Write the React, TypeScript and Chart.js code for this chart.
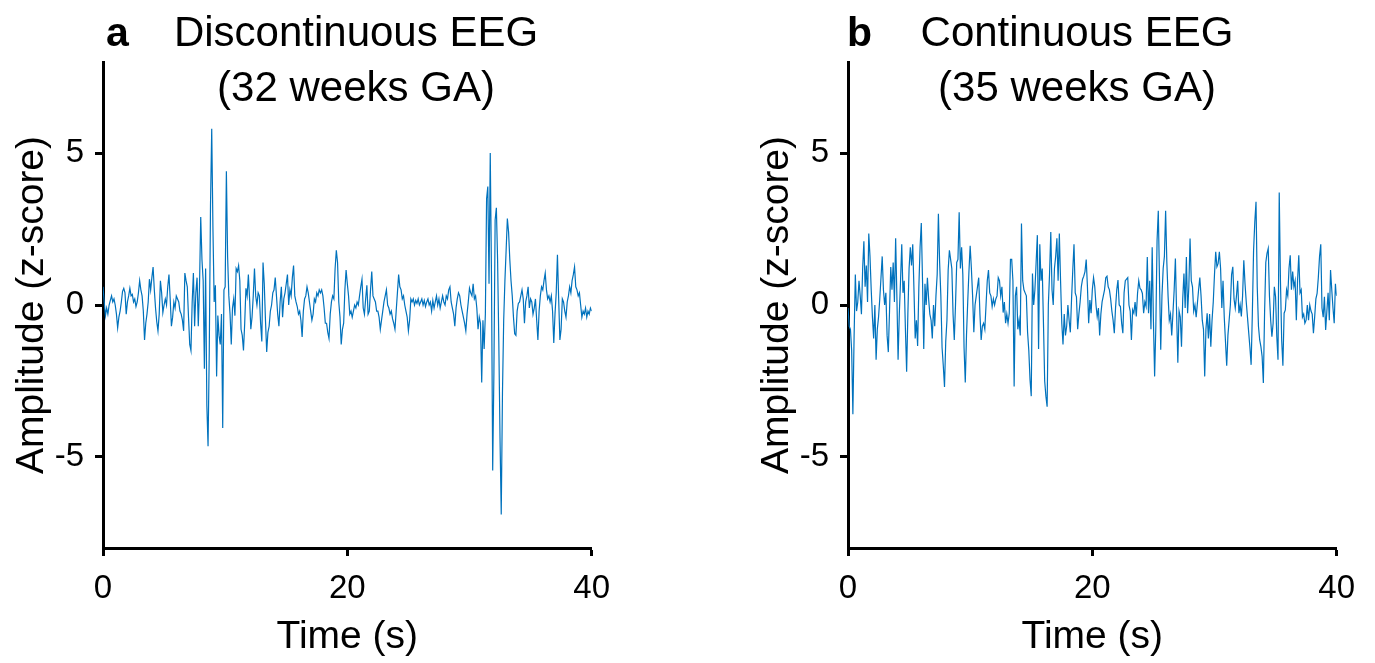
import React, { useEffect, useRef } from 'react';
import { Chart, registerables } from 'chart.js';

Chart.register(...registerables);

// Sampling interval of the traces (seconds)
const timeStep = 0.1;

// Panel a: discontinuous EEG, 32 weeks GA (z-score), one row per second
const discontinuousEEG = [
  0.6, 0.1, -0.35, -0.1, -0.3, 0.0, 0.15, 0.3, 0.1, 0.2,
  0.0, -0.3, -0.75, -0.4, -0.2, 0.1, 0.45, 0.55, 0.4, -0.3,
  0.1, 0.3, 0.55, 0.3, 0.35, 0.1, 0.2, -0.05, 0.1, 0.4,
  0.8, 0.5, 0.3, -0.2, -1.15, -0.6, -0.3, 0.1, 0.85, 0.5,
  0.9, 1.25, 0.5, -0.1, -0.55, -0.85, -0.3, 0.8, 0.4, -0.25,
  0.0, 0.2, 0.0, 0.6, 1.0, 0.2, -0.7, -0.4, 0.1, -0.1,
  0.3, 0.2, 0.1, -0.2, -0.3, -0.5, -0.85, 1.05, 0.8, 0.6,
  -0.4, -1.3, -1.5, 0.1, 1.05, -0.7, 0.4, 0.9, -0.7, 0.6,
  2.9, 1.5, 0.8, -2.1, 1.2, -3.3, -4.65, -1.5, 3.3, 5.8,
  2.5, 0.1, 0.65, -2.35, -0.35, -1.0, -1.3, -0.3, -4.05, 0.5,
  0.6, 4.4, 1.6, 0.3, -0.3, -1.3, -0.1, 0.2, -0.35, 1.2,
  1.1, 1.3, 0.8, -0.8, -1.0, -1.5, -0.6, 0.55, 0.3, 1.0,
  0.2, -0.8, -0.4, 0.3, 1.2, 0.3, 0.0, 0.4, 0.3, -0.6,
  -1.2, 1.4, 0.7, -0.5, -1.55, -0.9, -0.7, -0.2, 0.0, 0.4,
  0.5, 0.9, 0.3, -0.3, -0.7, 0.1, 0.6, -0.4, 0.2, 0.4,
  0.7, 1.0, 0.0, 0.5, 0.3, 0.9, 1.3, 0.3, 0.1, -0.05,
  -0.3, -0.2, -0.5, -1.05, -0.2, 0.2, 0.3, 0.6, 0.4, 0.1,
  -0.2, -0.5, -0.3, 0.2, 0.1, 0.4, 0.3, 0.5, 0.4, 0.5,
  0.3, -0.1, -0.6, -0.6, -0.9, -1.1, -0.3, 0.1, 0.3, 0.2,
  1.2, 1.8, 1.4, 0.1, -0.4, -1.3, -0.8, -0.6, 0.5, 1.15,
  0.7, 0.3, -0.3, -0.2, -0.4, -0.2, 0.0, -0.1, 0.1, 0.0,
  0.3, 0.6, 0.85, -0.1, -0.3, 0.2, 0.65, -0.3, -0.2, 0.5,
  1.1, 0.3, 0.2, 0.1, -0.2, -0.2, -0.4, -0.8, -0.5, -0.2,
  0.1, 0.3, 0.5, 0.0, -0.1, -0.3, -0.2, -0.45, -0.6, -0.8,
  -0.2, 0.4, 1.0, 0.6, 0.5, 0.2, 0.3, 0.0, -0.2, -0.4,
  -0.85, -0.5, 0.2, 0.1, 0.2, 0.0, 0.15, 0.05, 0.2, 0.0,
  0.1, 0.2, 0.0, 0.15, -0.05, 0.1, 0.2, 0.0, 0.1, -0.2,
  0.15, -0.1, 0.1, 0.3, 0.0, 0.2, -0.1, 0.1, 0.3, 0.1,
  0.0, 0.3, 0.2, 0.5, 0.6, 0.1, -0.1, -0.3, -0.7, -0.1,
  0.2, 0.4, 0.3, 0.0, -0.2, -0.4, -0.6, -0.85, -0.3, 0.1,
  0.55, 0.4, 0.3, 0.7, 0.2, 0.3, -0.1, -0.8, -0.4, -0.6,
  -2.55, -0.5, -1.45, -0.3, 3.5, 3.9, 0.7, 5.0, 1.0, -5.45,
  -2.2, 2.8, 3.2, 1.5, -1.2, -4.4, -6.9, -2.9, -0.5, 0.8,
  1.8, 2.85, 2.4, 1.5, 0.8, 0.3, -0.4, -0.95, -1.0, -0.2,
  0.05, 0.1, 0.3, 0.5, 0.2, -0.6, 0.1, 0.3, 0.6, -0.1,
  0.2, 0.1, -0.3, -0.1, 0.2, -0.5, -1.15, -0.2, 0.3, 0.6,
  0.5, 0.8, 1.05, 0.5, 0.2, 0.3, 0.1, 0.3, -0.2, -1.25,
  -0.3, 0.4, 1.65, 0.2, -1.15, -0.8, 0.2, 0.1, -0.2, -0.4,
  0.1, 0.3, 0.6, 0.4, 0.8, 1.0, 1.25, 0.6, 0.5, 0.3,
  0.4, 0.0, -0.4, -0.2, -0.3, -0.1, -0.4, -0.2, -0.3, -0.1,
  -0.2,
];

// Panel b: continuous EEG, 35 weeks GA (z-score), one row per second
const continuousEEG = [
  -0.1, -0.7, -0.8, -1.5, -3.6, -1.0, 1.0, -0.2, 0.1, 0.8,
  0.3, -0.3, 1.2, 2.1, 0.6, 1.3, 0.1, 2.35, 1.6, 0.5,
  -0.4, -1.1, 0.0, -1.8, -0.8, -0.4, 0.2, 0.9, 1.6, 0.5,
  0.0, 0.4, -1.0, -1.55, -0.2, 1.25, 0.5, 1.4, 0.1, 2.2,
  0.3, -1.8, -0.3, 0.8, 2.0, 0.4, 0.8, -0.8, -2.2, -0.3,
  1.2, 1.9, 1.3, 2.0, 0.5, -1.1, -0.5, -1.35, 0.6, 1.9,
  2.7, 0.8, -1.45, 0.7, 0.0, 0.9, 0.2, -0.3, -0.5, -1.1,
  0.0, -0.7, 0.3, 1.0, 3.0, 1.4, 0.3, -1.4, -2.0, -2.7,
  -1.2, -0.5, 1.15, 1.8, 1.5, 1.2, -0.3, -1.15, 0.0, 1.4,
  1.5, 3.05, 1.2, 1.9, 1.0, -1.4, -2.55, -1.0, 0.1, 1.1,
  1.95, 1.2, 0.3, -0.9, 0.0, 0.3, 0.6, 0.9, -0.3, -1.15,
  -0.7, -0.6, -0.8, 0.0, 0.8, 1.15, 0.4, 0.3, -0.05, 0.2,
  0.0, 0.2, 0.3, 0.9, 0.8, 0.3, 0.6, -0.25, 0.1, -0.6,
  -0.3, -0.6, -0.27, 1.5, 1.5, 0.8, -2.68, 0.3, 0.6, -0.8,
  -0.5, -1.0, 2.68, 0.8, 0.5, 0.4, 0.3, -0.9, -1.5, -2.46,
  -3.0, 1.04, 0.0, 0.5, 1.4, 2.3, -1.45, 2.0, 0.8, 1.2,
  -0.6, -2.5, -3.0, -3.35, 0.0, 1.04, 2.4, 0.5, 0.0, 1.2,
  1.6, 2.2, 0.8, 2.35, 0.8, -0.6, -1.3, -0.3, -1.0, -0.7,
  0.0, -0.5, -0.9, 0.2, 1.15, 2.0, 0.4, 0.27, -0.8, -0.3,
  0.1, 0.6, 0.85, 0.95, 1.1, 1.5, 0.6, -0.6, 0.16, -0.27,
  0.5, 0.9, 0.6, 0.0, -0.38, -0.1, -1.0, -0.3, 0.1, 0.3,
  0.5, 0.9, 0.95, 0.6, 0.5, 0.2, -0.2, -0.5, -0.93, -0.1,
  0.5, 0.82, 0.0, -0.05, -0.6, -0.93, 0.4, 0.8, 0.85, 0.9,
  0.0, -0.2, -1.15, -0.16, -0.27, 0.1, -0.38, 0.38, 0.8, 0.55,
  0.5, 0.38, -0.27, 0.1, -0.05, 1.58, -0.27, 0.8, -0.8, 1.9,
  -0.5, -2.35, -0.7, 2.13, 3.1, 0.8, -1.47, 0.3, 1.2, 1.6,
  3.1, 1.4, 0.3, -0.5, -0.3, -1.0, -0.27, 0.5, 1.53, -0.27,
  -1.9, -0.2, -0.4, -1.37, 0.2, 1.04, -0.1, 1.58, -0.27, 0.6,
  2.19, 0.8, 0.6, -0.2, 0.0, -0.4, 0.05, 0.5, 0.9, 0.3,
  -0.5, -0.8, -2.35, -0.8, -0.27, -1.1, -0.3, -1.37, -0.5, 0.1,
  1.0, 1.75, 1.26, 1.37, 1.75, 1.2, -0.1, 0.8, -0.4, -1.2,
  -2.0, -1.0, -0.5, 0.0, 1.0, 1.26, 0.2, -0.1, 0.3, 0.8,
  -0.27, 0.0, -0.38, 0.3, 1.47, 0.7, 0.1, -0.4, -0.9, -1.4,
  -1.97, -0.27, 1.8, 2.73, 3.4, 0.6, -0.7, -1.15, -1.37, -1.7,
  -2.57, -0.27, 1.4, 1.7, 1.86, 0.3, -0.5, -1.04, -0.6, 0.6,
  0.27, -1.04, -1.8, 3.7, 0.8, -1.15, -2.0, -0.27, -0.16, 0.5,
  0.3, 1.2, 1.64, 0.5, 1.1, 0.6, 0.8, -0.5, 0.8, 1.64,
  0.4, 0.5, -0.4, -0.3, -0.6, -0.5, 0.0, -0.5, 0.0, -0.2,
  -0.3, -0.93, -0.4, 0.2, 0.38, 0.9, 1.6, 2.0, -0.1, -0.4,
  0.27, -0.82, -0.2, 0.4, -0.5, 1.15, 0.5, -0.1, -0.6, 0.7,
  0.3,
];

const xTickValues = [0, 20, 40];
const yTickValues = [-5, 0, 5];
const xRange = [0, 40];
const yRange = [-8, 8];
const panelLetters = ['a', 'b'];
const panelTitlesA = ['Discontinuous EEG', '(32 weeks GA)'];
const panelTitlesB = ['Continuous EEG', '(35 weeks GA)'];
const xAxisLabel = 'Time (s)';
const yAxisLabel = 'Amplitude (z-score)';

const FONT = "'Liberation Sans', Arial, Helvetica, sans-serif";
const LINE_COLOR = '#0072BD';

const titlePlugin = {
  id: 'panelTitle',
  afterDraw(chart: any, _args: any, opts: any) {
    const ctx = chart.ctx;
    ctx.save();
    ctx.fillStyle = '#000';
    ctx.textBaseline = 'alphabetic';
    ctx.font = `bold 41px ${FONT}`;
    ctx.textAlign = 'left';
    ctx.fillText(opts.letter, opts.letterX, 46);
    ctx.font = `42px ${FONT}`;
    ctx.textAlign = 'center';
    ctx.fillText(opts.lines[0], opts.centerX, 46);
    ctx.fillText(opts.lines[1], opts.centerX, 101);
    ctx.restore();
  },
};

function EEGPanel(props: { values: number[]; letter: string; lines: string[]; left: number; letterX: number; centerX: number }) {
  const ref = useRef<HTMLCanvasElement | null>(null);
  useEffect(() => {
    if (!ref.current) return;
    const points = props.values.map((v, i) => ({ x: Math.round(i * timeStep * 10) / 10, y: v }));
    const chart = new Chart(ref.current, {
      type: 'line',
      data: {
        datasets: [
          {
            data: points,
            borderColor: LINE_COLOR,
            borderWidth: 1.2,
            pointRadius: 0,
            tension: 0,
            fill: false,
          },
        ],
      },
      options: {
        animation: false,
        responsive: false,
        maintainAspectRatio: false,
        layout: { padding: { top: 62, right: 29, left: 0, bottom: 0 } },
        plugins: {
          legend: { display: false },
          tooltip: { enabled: false },
          title: { display: false },
          panelTitle: { letter: props.letter, lines: props.lines, letterX: props.letterX, centerX: props.centerX },
        } as any,
        scales: {
          x: {
            type: 'linear',
            min: xRange[0],
            max: xRange[1],
            afterBuildTicks: (s: any) => {
              s.ticks = xTickValues.map((v) => ({ value: v }));
            },
            afterFit: (s: any) => {
              s.height = 115;
            },
            grid: { display: true, drawOnChartArea: false, drawTicks: true, tickLength: 8, tickWidth: 3, tickColor: '#000' },
            border: { display: true, color: '#000', width: 3 },
            ticks: {
              color: '#000',
              font: { size: 33, family: FONT },
              padding: 13,
              maxRotation: 0,
              autoSkip: false,
              callback: (v: any) => String(v),
            },
            title: { display: true, text: xAxisLabel, color: '#000', font: { size: 39, family: FONT }, padding: { top: 0, bottom: 2 } },
          },
          y: {
            type: 'linear',
            min: yRange[0],
            max: yRange[1],
            afterBuildTicks: (s: any) => {
              s.ticks = yTickValues.map((v) => ({ value: v }));
            },
            afterFit: (s: any) => {
              s.width = 103;
            },
            grid: { display: true, drawOnChartArea: false, drawTicks: true, tickLength: 8, tickWidth: 3, tickColor: '#000' },
            border: { display: true, color: '#000', width: 3 },
            ticks: {
              color: '#000',
              font: { size: 33, family: FONT },
              padding: 11,
              autoSkip: false,
              callback: (v: any) => String(v),
            },
            title: { display: true, text: yAxisLabel, color: '#000', font: { size: 39, family: FONT }, padding: { top: 9, bottom: 0 } },
          },
        },
      } as any,
      plugins: [titlePlugin],
    });
    return () => chart.destroy();
  }, []);
  return (
    <canvas
      ref={ref}
      width={623}
      height={663}
      style={{ position: 'absolute', left: props.left, top: 0, width: 623, height: 663 }}
    />
  );
}

export default function App() {
  return (
    <div style={{ position: 'absolute', left: 0, top: 0, width: 1375, height: 663, background: '#fff', overflow: 'hidden' }}>
      <EEGPanel values={discontinuousEEG} letter={panelLetters[0]} lines={panelTitlesA} left={0} letterX={106} centerX={356} />
      <EEGPanel values={continuousEEG} letter={panelLetters[1]} lines={panelTitlesB} left={745} letterX={102} centerX={332} />
    </div>
  );
}
